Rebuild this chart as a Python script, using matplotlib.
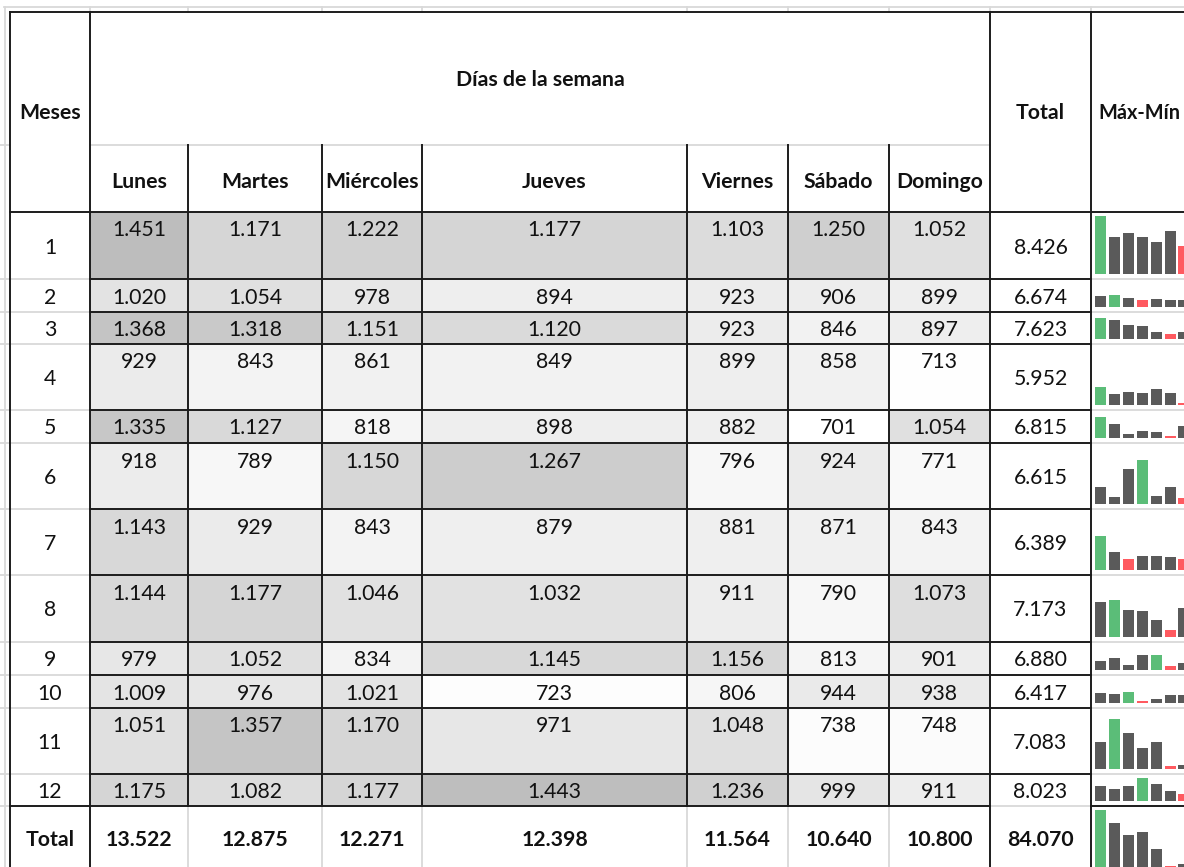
import matplotlib
matplotlib.use("Agg")
import matplotlib.pyplot as plt
from matplotlib.patches import Rectangle
from matplotlib.colors import LinearSegmentedColormap
import numpy as np

plt.rcParams['font.family'] = ['Lato', 'DejaVu Sans']

# ---------------- data ----------------
months = [1, 2, 3, 4, 5, 6, 7, 8, 9, 10, 11, 12]
days = ["Lunes", "Martes", "Miércoles", "Jueves", "Viernes", "Sábado", "Domingo"]
lunes = [1451, 1020, 1368, 929, 1335, 918, 1143, 1144, 979, 1009, 1051, 1175]
martes = [1171, 1054, 1318, 843, 1127, 789, 929, 1177, 1052, 976, 1357, 1082]
miercoles = [1222, 978, 1151, 861, 818, 1150, 843, 1046, 834, 1021, 1170, 1177]
jueves = [1177, 894, 1120, 849, 898, 1267, 879, 1032, 1145, 723, 971, 1443]
viernes = [1103, 923, 923, 899, 882, 796, 881, 911, 1156, 806, 1048, 1236]
sabado = [1250, 906, 846, 858, 701, 924, 871, 790, 813, 944, 738, 999]
domingo = [1052, 899, 897, 713, 1054, 771, 843, 1073, 901, 938, 748, 911]

values = np.array([lunes, martes, miercoles, jueves, viernes, sabado, domingo]).T  # 12 x 7
row_totals = values.sum(axis=1)
col_totals = values.sum(axis=0)
grand_total = values.sum()

# ---------------- layout (pixels) ----------------
W, H = 1184, 867
col_edges = [10, 90, 188, 322, 422, 687, 788, 889, 990, 1091, 1192]
hdr_top, hdr_mid, hdr_bot = 12, 145, 212
row_edges = [212, 279, 312, 344, 410, 443, 509, 575, 642, 675, 708, 774, 806, 873]

DARK = '#1c1c1c'
LIGHT = '#d9d9d9'
TXT = '#111111'
LW_D = 1.4
LW_L = 1.3
FS = 15.3

def fmt(v):
    return f"{int(v):,}".replace(",", ".")

fig = plt.figure(figsize=(W / 100, H / 100), dpi=100)
ax = fig.add_axes([0, 0, 1, 1])
ax.set_xlim(0, W)
ax.set_ylim(H, 0)
ax.axis('off')

cmap = LinearSegmentedColormap.from_list('g', ['#ffffff', '#bdbdbd'])
vmin, vmax = values.min(), values.max()

# cell shading
for i in range(12):
    for j in range(7):
        x0, x1 = col_edges[1 + j], col_edges[2 + j]
        y0, y1 = row_edges[i], row_edges[i + 1]
        c = cmap((values[i, j] - vmin) / (vmax - vmin))
        ax.add_patch(Rectangle((x0, y0), x1 - x0, y1 - y0, facecolor=c, edgecolor='none', zorder=1))

# excel background gridlines (outside table)
ax.plot([4, W], [7, 7], color=LIGHT, lw=LW_L, zorder=0)
ax.plot([5, 5], [7, H], color=LIGHT, lw=LW_L, zorder=0)
for x in col_edges[1:-1]:
    ax.plot([x, x], [7, hdr_top], color=LIGHT, lw=LW_L, zorder=0)
for y in [hdr_mid] + row_edges[1:-1]:
    ax.plot([0, col_edges[0]], [y, y], color=LIGHT, lw=LW_L, zorder=0)

def hline(y, xa, xb, color, lw):
    ax.plot([xa, xb], [y, y], color=color, lw=lw, zorder=3, solid_capstyle='projecting')

def vline(x, ya, yb, color, lw):
    ax.plot([x, x], [ya, yb], color=color, lw=lw, zorder=3, solid_capstyle='projecting')

# light lines first
hline(hdr_mid, col_edges[1], col_edges[8], LIGHT, LW_L)
for y in row_edges[1:-2]:
    hline(y, col_edges[0], col_edges[1], LIGHT, LW_L)
for y in row_edges[1:-2]:
    hline(y, col_edges[9], W, LIGHT, LW_L)
hline(row_edges[-2], col_edges[8], col_edges[9], LIGHT, LW_L)
for x in col_edges[2:8]:
    vline(x, row_edges[-2], H, LIGHT, LW_L)

# dark borders
hline(hdr_top, col_edges[0], W, DARK, LW_D)
hline(hdr_bot, col_edges[0], W, DARK, LW_D)
for x in [col_edges[0], col_edges[1], col_edges[8], col_edges[9]]:
    vline(x, hdr_top, H, DARK, LW_D)
for x in col_edges[2:8]:
    vline(x, hdr_mid, row_edges[-2], DARK, LW_D)
for y in row_edges[1:-2]:
    hline(y, col_edges[1], col_edges[9], DARK, LW_D)
hline(row_edges[-2], col_edges[0], col_edges[8], DARK, LW_D)
hline(row_edges[-2], col_edges[9], W, DARK, LW_D)

def cx(k):
    return (col_edges[k] + col_edges[k + 1]) / 2

# header texts
ax.text(cx(0), (hdr_top + hdr_bot) / 2 + 1, "Meses", ha='center', va='center',
        fontsize=FS, fontweight='bold', color=TXT, zorder=4)
ax.text((col_edges[1] + col_edges[8]) / 2, (hdr_top + hdr_mid) / 2 + 2, "Días de la semana",
        ha='center', va='center', fontsize=FS, fontweight='bold', color=TXT, zorder=4)
for j, d in enumerate(days):
    ax.text(cx(1 + j), (hdr_mid + hdr_bot) / 2 + 3.5, d, ha='center', va='center',
            fontsize=FS, fontweight='bold', color=TXT, zorder=4)
ax.text(cx(8), (hdr_top + hdr_bot) / 2 + 1, "Total", ha='center', va='center',
        fontsize=FS, fontweight='bold', color=TXT, zorder=4)
ax.text(col_edges[9] + 7, (hdr_top + hdr_bot) / 2 + 1, "Máx-Mín", ha='left', va='center',
        fontsize=14.3, fontweight='bold', color=TXT, zorder=4)

# body texts
for i in range(12):
    y0, y1 = row_edges[i], row_edges[i + 1]
    ymid = (y0 + y1) / 2 + 2
    ax.text(cx(0), ymid, str(months[i]), ha='center', va='center', fontsize=FS, color=TXT, zorder=4)
    for j in range(7):
        ax.text(cx(1 + j), y0 + 18.5, fmt(values[i, j]), ha='center', va='center',
                fontsize=FS, color=TXT, zorder=4)
    ax.text(cx(8), ymid, fmt(row_totals[i]), ha='center', va='center', fontsize=FS, color=TXT, zorder=4)

yt = (row_edges[-2] + row_edges[-1]) / 2
ax.text(cx(0), yt, "Total", ha='center', va='center', fontsize=FS, fontweight='bold', color=TXT, zorder=4)
for j in range(7):
    ax.text(cx(1 + j), yt, fmt(col_totals[j]), ha='center', va='center', fontsize=FS,
            fontweight='bold', color=TXT, zorder=4)
ax.text(cx(8), yt, fmt(grand_total), ha='center', va='center', fontsize=FS,
        fontweight='bold', color=TXT, zorder=4)

# sparklines
GREEN, RED, GRAY = '#5bbd78', '#ff5a60', '#5a5a5a'
sp_left, sp_pitch = 1093.6, 13.9

def sparkline(vals, y0, y1, base, top):
    hpx = (y1 - 3.5 - 5.5) - y0
    sax = fig.add_axes([sp_left / W, 1 - (y1 - 5.5) / H, 7 * sp_pitch / W, hpx / H])
    sax.set_xlim(-0.5, 6.5)
    sax.set_ylim(0, top - base)
    sax.axis('off')
    sax.patch.set_alpha(0)
    vals = np.asarray(vals, dtype=float)
    minh = 1.5 / hpx * (top - base)
    heights = np.maximum(vals - base, minh)
    colors = [GREEN if v == vals.max() else (RED if v == vals.min() else GRAY) for v in vals]
    sax.bar(np.arange(len(vals)), heights, width=0.79, color=colors, linewidth=0)

for i in range(12):
    sparkline(values[i], row_edges[i], row_edges[i + 1], vmin, vmax)
sparkline(col_totals, row_edges[-2], row_edges[-1], col_totals.min(), col_totals.max())

fig.savefig("out.png", dpi=100)
